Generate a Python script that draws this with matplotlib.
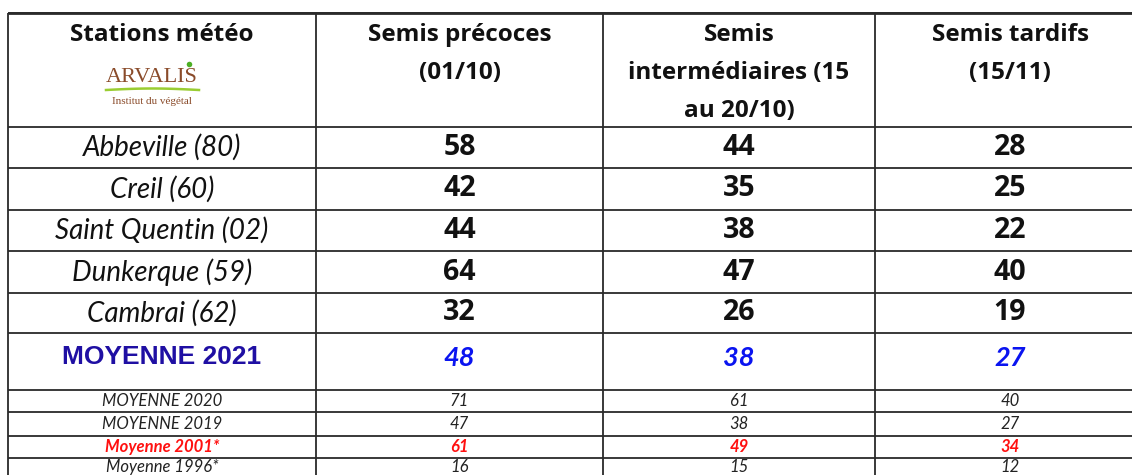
import matplotlib
matplotlib.use("Agg")
import matplotlib.pyplot as plt
import numpy as np

# table content
headers = ["Stations météo", "Semis précoces\n(01/10)",
           "Semis\nintermédiaires (15\nau 20/10)", "Semis tardifs\n(15/11)"]
stations = ["Abbeville (80)", "Creil (60)", "Saint Quentin (02)", "Dunkerque (59)", "Cambrai (62)"]
precoces = [58, 42, 44, 64, 32]
intermediaires = [44, 35, 38, 47, 26]
tardifs = [28, 25, 22, 40, 19]
moyenne_label = "MOYENNE 2021"
moyenne_2021 = [48, 38, 27]
history_labels = ["MOYENNE 2020", "MOYENNE 2019", "Moyenne 2001*", "Moyenne 1996*"]
history_values = [[71, 61, 40], [47, 38, 27], [61, 49, 34], [16, 15, 12]]
history_colors = ["#222222", "#222222", "#ff1010", "#222222"]

# layout in pixels
W, H = 1132, 475
col_edges = [8, 316, 603, 875, 1145]
row_edges = [13, 127, 168, 210, 251, 293, 333, 390, 412, 436, 458, 482]

BOLD = "Open Sans"
ITAL = "Lato"
line_c = "#2a2a2a"

fig = plt.figure(figsize=(W / 100, H / 100), dpi=100)
ax = fig.add_axes([0, 0, 1, 1])
ax.set_xlim(0, W)
ax.set_ylim(H, 0)
ax.axis("off")

# grid
ax.hlines(row_edges, col_edges[0], col_edges[-1], color=line_c, lw=1.3)
ax.hlines(row_edges[0], col_edges[0], col_edges[-1], color=line_c, lw=2.0)
ax.vlines(col_edges, row_edges[0], row_edges[-1], color=line_c, lw=1.3)

centers = [(col_edges[i] + col_edges[i + 1]) / 2 for i in range(4)]
rc = [(row_edges[i] + row_edges[i + 1]) / 2 for i in range(len(row_edges) - 1)]
rc[-1] = 467

# header
ax.text(centers[0], 35, headers[0], ha="center", va="center", fontsize=17.5,
        fontweight="bold", family=BOLD, color="#111111")
for j in range(1, 4):
    for k, line in enumerate(headers[j].split("\n")):
        ax.text(centers[j], 35 + k * 38, line, ha="center", va="center", fontsize=17.5,
                fontweight="bold", family=BOLD, color="#111111")

# logo ARVALIS
brown = "#8a4b2a"
ax.text(152, 78, "ARVALIS", ha="center", va="center", fontsize=16, family="Liberation Serif",
        color=brown)
sw = np.linspace(106, 199, 40)
ax.plot(sw, 90 - 1.5 * np.sin((sw - 106) / 93 * np.pi), color="#9acd32", lw=1.8)
ax.text(152, 101, "Institut du végétal", ha="center", va="center", fontsize=8,
        family="Liberation Serif", color=brown)
ax.plot([189], [64], marker="o", ms=4, color="#4caf24", mec="none")

# station rows
cols = [precoces, intermediaires, tardifs]
for i, name in enumerate(stations):
    y = rc[i + 1]
    ax.text(centers[0], y, name, ha="center", va="center", fontsize=20, style="italic",
            family=ITAL, color="#111111")
    for j in range(3):
        ax.text(centers[j + 1], y, str(cols[j][i]), ha="center", va="center", fontsize=20.5,
                fontweight="bold", family=BOLD, color="#111111")

# average 2021
y = rc[6] - 4
ax.text(centers[0], y, moyenne_label, ha="center", va="center", fontsize=19,
        fontweight="bold", family="Liberation Sans", color="#1f0fa3")
for j in range(3):
    ax.text(centers[j + 1], y, str(moyenne_2021[j]), ha="center", va="center", fontsize=19.5,
            fontweight="bold", style="italic", family=ITAL, color="#0a14f0")

# history rows
for i, lab in enumerate(history_labels):
    y = rc[7 + i]
    wt = "bold" if history_colors[i] != "#222222" else "normal"
    ax.text(centers[0], y, lab, ha="center", va="center", fontsize=12, style="italic",
            fontweight=wt, family=ITAL, color=history_colors[i])
    for j in range(3):
        ax.text(centers[j + 1], y, str(history_values[i][j]), ha="center", va="center",
                fontsize=12, style="italic", fontweight=wt, family=ITAL,
                color=history_colors[i])

fig.savefig("out.png", dpi=100)
